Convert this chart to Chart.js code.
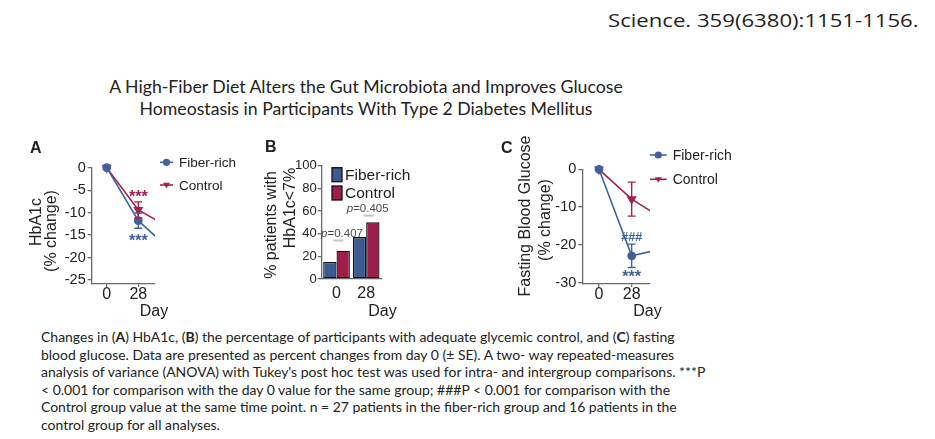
<!DOCTYPE html>
<html><head><meta charset="utf-8">
<script src="https://cdn.jsdelivr.net/npm/chart.js@4.4.1/dist/chart.umd.min.js"></script>
<style>
html,body{margin:0;padding:0;background:#fff;width:935px;height:439px;overflow:hidden;position:relative;}
.abs{position:absolute;white-space:nowrap;color:#222;}
#hdr{left:608px;top:11px;font:19px "Open Sans";line-height:19px;transform:scaleX(1.165);transform-origin:0 0;}
#title{left:0;width:732px;top:76px;text-align:center;font:17px Lato;line-height:22px;transform:scaleX(1.04);transform-origin:366px 0;}
#cap{left:41px;top:329px;font:13.5px Lato;line-height:17.6px;transform:scaleX(1.035);transform-origin:0 0;}
canvas{position:absolute;}
</style></head><body>
<div id="hdr" class="abs">Science. 359(6380):1151-1156.</div>
<div id="title" class="abs">A High-Fiber Diet Alters the Gut Microbiota and Improves Glucose<br>Homeostasis in Participants With Type 2 Diabetes Mellitus</div>
<div id="cap" class="abs">Changes in (<b>A</b>) HbA1c, (<b>B</b>) the percentage of participants with adequate glycemic control, and (<b>C</b>) fasting<br>blood glucose. Data are presented as percent changes from day 0 (± SE). A two- way repeated-measures<br>analysis of variance (ANOVA) with Tukey's post hoc test was used for intra- and intergroup comparisons. ***P<br>&lt; 0.001 for comparison with the day 0 value for the same group; ###P &lt; 0.001 for comparison with the<br>Control group value at the same time point. n = 27 patients in the fiber-rich group and 16 patients in the<br>control group for all analyses.</div>
<canvas id="cA" width="225" height="195" style="left:20px;top:130px"></canvas>
<canvas id="cB" width="165" height="195" style="left:255px;top:130px"></canvas>
<canvas id="cC" width="240" height="195" style="left:500px;top:130px"></canvas>
<script>
// ---- data ----
const seriesNames = ['Fiber-rich', 'Control'];
const dayTicks = [0, 28];
const lineDays = [0, 28, 56];
const hba1cTicks = [0, -5, -10, -15, -20, -25];
const hba1cFiber = [0, -11.8, -18.2];
const hba1cControl = [0, -9.4, -13.4];
const hba1cFiberSE = [0, 1.7, 0];
const hba1cControlSE = [0, 1.8, 0];
const hba1cMarks = ['***', '***'];      // [Control, Fiber-rich] at day 28
const hba1cMarkLevels = [-5.7, -15.4];
const fbgTicks = [0, -10, -20, -30];
const fbgFiber = [0, -22.9, -20.9];
const fbgControl = [0, -7.9, -13.3];
const fbgFiberSE = [0, 3.1, 0];
const fbgControlSE = [0, 4.5, 0];
const fbgMarks = ['###', '***'];        // Fiber-rich at day 28
const fbgMarkLevels = [-17.7, -27.4];
const barDays = ['0', '28'];
const pctTicks = [0, 20, 40, 60, 80, 100];
const pctFiber = [15, 37];
const pctControl = [25, 50];
const pLabels = ['p=0.407', 'p=0.405'];
const pLevels = [34, 56];

// ---- styles ----
const BLUE = '#40629a', RED = '#a3214f';
const BAR_BLUE = '#3b5a92', BAR_RED = '#9e1d4d';
const AX = '#6a6a6a', TXT = '#222';
const FONT = '"Liberation Sans", Arial, sans-serif';
Chart.defaults.font.family = FONT;
Chart.defaults.color = TXT;

function drawMarker(ctx, style, x, y, r, color) {
  ctx.save(); ctx.fillStyle = color; ctx.strokeStyle = color; ctx.beginPath();
  if (style === 'circle') { ctx.arc(x, y, r, 0, Math.PI * 2); }
  else { ctx.moveTo(x - r, y - r * 0.6); ctx.lineTo(x + r, y - r * 0.6); ctx.lineTo(x, y + r * 0.9); ctx.closePath(); }
  ctx.fill(); ctx.restore();
}
function drawSym(ctx, text, x, y, size, color) {
  ctx.save(); ctx.font = 'bold ' + size + 'px ' + FONT; ctx.fillStyle = color;
  ctx.textAlign = 'center'; ctx.textBaseline = 'alphabetic';
  const off = text[0] === '*' ? 0.55 : 0.36;
  ctx.fillText(text, x, y + off * size); ctx.restore();
}

const deco = {
  id: 'deco',
  afterDatasetsDraw(chart, a, o) {
    const ctx = chart.ctx, xs = chart.scales.x, ys = chart.scales.y;
    (o.errors || []).forEach(e => {
      const ds = chart.data.datasets[e.ds];
      ctx.save(); ctx.strokeStyle = ds.borderColor; ctx.lineWidth = 1.4;
      ds.data.forEach((p, i) => {
        const se = e.se[i]; if (!se || p.x > xs.max) return;
        const x = xs.getPixelForValue(p.x), yt = ys.getPixelForValue(p.y + se), yb = ys.getPixelForValue(p.y - se);
        ctx.beginPath(); ctx.moveTo(x, yt); ctx.lineTo(x, yb);
        ctx.moveTo(x - 4, yt); ctx.lineTo(x + 4, yt); ctx.moveTo(x - 4, yb); ctx.lineTo(x + 4, yb); ctx.stroke();
      });
      ctx.restore();
    });
    (o.marks || []).forEach(m => {
      drawSym(ctx, m.text, xs.getPixelForValue(m.x), ys.getPixelForValue(m.y), m.size, m.color);
    });
    (o.pvals || []).forEach(p => {
      const xc = xs.getPixelForValue(p.i);
      const yl = ys.getPixelForValue(p.level);
      ctx.save(); ctx.strokeStyle = '#c4c4c4'; ctx.lineWidth = 2;
      ctx.beginPath(); ctx.moveTo(xc + p.lx - 5, yl); ctx.lineTo(xc + p.lx + 5, yl); ctx.stroke();
      ctx.font = 'italic 11.5px ' + FONT; const w1 = ctx.measureText('p').width;
      ctx.font = '11.5px ' + FONT; const rest = p.text.slice(1); const w2 = ctx.measureText(rest).width;
      let x0 = xc + p.tx - (w1 + w2) / 2; const y0 = yl - p.ty;
      ctx.fillStyle = '#4a4a4a'; ctx.textBaseline = 'middle'; ctx.textAlign = 'left';
      ctx.font = 'italic 11.5px ' + FONT; ctx.fillText('p', x0, y0);
      ctx.font = '11.5px ' + FONT; ctx.fillText(rest, x0 + w1, y0);
      ctx.restore();
    });
  },
  afterDraw(chart, a, o) {
    const ctx = chart.ctx;
    (o.texts || []).forEach(t => {
      ctx.save(); ctx.translate(t.x, t.y); if (t.rot) ctx.rotate(t.rot);
      ctx.font = t.font; ctx.fillStyle = t.color || TXT; ctx.textAlign = t.align || 'center'; ctx.textBaseline = t.base || 'middle';
      ctx.fillText(t.text, 0, 0); ctx.restore();
    });
    (o.legend || []).forEach(l => {
      const ds = chart.data.datasets[l.ds];
      ctx.save();
      if (l.box) {
        ctx.fillStyle = ds.backgroundColor; ctx.fillRect(l.x, l.y - 7, 10, 14);
        ctx.strokeStyle = '#111'; ctx.lineWidth = 1.3; ctx.strokeRect(l.x, l.y - 7, 10, 14);
        ctx.fillStyle = TXT; ctx.font = l.font; ctx.textBaseline = 'middle'; ctx.textAlign = 'left';
        ctx.fillText(ds.label, l.x + 13, l.y + 1);
      } else {
        ctx.strokeStyle = ds.borderColor; ctx.lineWidth = 1.6;
        ctx.beginPath(); ctx.moveTo(l.x, l.y); ctx.lineTo(l.x + l.w, l.y); ctx.stroke();
        drawMarker(ctx, ds.pointStyle === 'circle' ? 'circle' : 'tri', l.x + l.w / 2, l.y, 3.6, ds.borderColor);
        ctx.fillStyle = TXT; ctx.font = l.font; ctx.textBaseline = 'middle'; ctx.textAlign = 'left';
        ctx.fillText(ds.label, l.x + l.w + 6, l.y + 1);
      }
      ctx.restore();
    });
  }
};

function pts(xs, ys) { return xs.map((x, i) => ({ x: x, y: ys[i] })); }
function axisGrid(len) { return { display: true, drawOnChartArea: false, drawTicks: true, tickLength: len, color: AX, lineWidth: 1.3 }; }

function lineChart(id, g) {
  return new Chart(document.getElementById(id), {
    type: 'line',
    data: {
      datasets: [
        { label: seriesNames[0], data: pts(lineDays, g.fiber), borderColor: BLUE, backgroundColor: BLUE,
          pointStyle: 'circle', pointRadius: 3.6, borderWidth: 1.6, tension: 0, clip: { left: 10, top: 10, right: 0, bottom: 10 } },
        { label: seriesNames[1], data: pts(lineDays, g.control), borderColor: RED, backgroundColor: RED,
          pointStyle: 'triangle', rotation: 180, pointRadius: 4.2, borderWidth: 1.6, tension: 0, clip: { left: 10, top: 10, right: 0, bottom: 10 } }
      ]
    },
    options: {
      responsive: false, animation: false, devicePixelRatio: 1,
      layout: { padding: g.pad },
      plugins: { legend: { display: false }, tooltip: { enabled: false }, deco: g.deco },
      scales: {
        x: { type: 'linear', min: g.xmin, max: g.xmax,
          afterBuildTicks: s => { s.ticks = dayTicks.map(v => ({ value: v })); },
          afterFit: s => { s.height = g.xh; },
          grid: axisGrid(3), border: { display: true, color: AX, width: 1.3 },
          ticks: { font: { size: 16 }, padding: -2, color: TXT, maxRotation: 0, callback: v => String(v) } },
        y: { type: 'linear', min: g.ymin, max: 0,
          afterBuildTicks: s => { s.ticks = g.yticks.map(v => ({ value: v })); },
          afterFit: s => { s.width = g.yw; },
          grid: axisGrid(4), border: { display: true, color: AX, width: 1.3 },
          ticks: { font: { size: 14.5 }, padding: 2, color: TXT, callback: v => String(v) } }
      }
    },
    plugins: [deco]
  });
}

const T16 = '16px ' + FONT, LET = 'bold 16px ' + FONT;
const R90 = -Math.PI / 2;

// Panel A
lineChart('cA', {
  fiber: hba1cFiber, control: hba1cControl, yticks: hba1cTicks,
  xmin: -13.3, xmax: 42.8, ymin: -25.9, yw: 71.7, xh: 41,
  pad: { left: 0, top: 37.7, right: 90, bottom: 0 },
  deco: {
    errors: [{ ds: 0, se: hba1cFiberSE }, { ds: 1, se: hba1cControlSE }],
    marks: [{ x: 28, y: hba1cMarkLevels[0], text: hba1cMarks[0], size: 16, color: RED },
            { x: 28, y: hba1cMarkLevels[1], text: hba1cMarks[1], size: 16, color: BLUE }],
    texts: [
      { text: 'A', x: 10, y: 23, font: LET, align: 'left', base: 'alphabetic' },
      { text: 'HbA1c', x: 16.5, y: 92, font: T16, rot: R90 },
      { text: '(% change)', x: 31.5, y: 101, font: T16, rot: R90 },
      { text: 'Day', x: 134, y: 182, font: T16 }
    ],
    legend: [{ ds: 0, x: 140, y: 32.3, w: 13, font: '13.5px ' + FONT },
             { ds: 1, x: 140, y: 55, w: 13, font: '13.5px ' + FONT }]
  }
});

// Panel C
lineChart('cC', {
  fiber: fbgFiber, control: fbgControl, yticks: fbgTicks,
  xmin: -14.3, xmax: 43.7, ymin: -30.35, yw: 82.3, xh: 41,
  pad: { left: 0, top: 39.3, right: 90, bottom: 0 },
  deco: {
    errors: [{ ds: 0, se: fbgFiberSE }, { ds: 1, se: fbgControlSE }],
    marks: [{ x: 28, y: fbgMarkLevels[0], text: fbgMarks[0], size: 12.6, color: BLUE },
            { x: 28, y: fbgMarkLevels[1], text: fbgMarks[1], size: 16, color: BLUE }],
    texts: [
      { text: 'C', x: 1, y: 23, font: LET, align: 'left', base: 'alphabetic' },
      { text: 'Fasting Blood Glucose', x: 26, y: 86, font: T16, rot: R90 },
      { text: '(% change)', x: 46, y: 90, font: T16, rot: R90 },
      { text: 'Day', x: 147.5, y: 182, font: T16 }
    ],
    legend: [{ ds: 0, x: 150, y: 25, w: 16.7, font: '14px ' + FONT },
             { ds: 1, x: 150, y: 49.3, w: 16.7, font: '14px ' + FONT }]
  }
});

// Panel B
new Chart(document.getElementById('cB'), {
  type: 'bar',
  data: {
    labels: barDays,
    datasets: [
      { label: seriesNames[0], data: pctFiber, backgroundColor: BAR_BLUE, borderColor: '#111', borderWidth: 1.3, borderSkipped: false },
      { label: seriesNames[1], data: pctControl, backgroundColor: BAR_RED, borderColor: '#111', borderWidth: 1.3, borderSkipped: false }
    ]
  },
  options: {
    responsive: false, animation: false, devicePixelRatio: 1,
    layout: { padding: { left: 0, top: 35.7, right: 39, bottom: 0 } },
    datasets: { bar: { categoryPercentage: 0.9, barPercentage: 1.0 } },
    plugins: { legend: { display: false }, tooltip: { enabled: false },
      deco: {
        pvals: [{ i: 0, level: pLevels[0], text: pLabels[0], lx: 1.8, tx: 5.5, ty: 6.5 },
                { i: 1, level: pLevels[1], text: pLabels[1], lx: 2.5, tx: 1.5, ty: 7 }],
        texts: [
          { text: 'B', x: 10, y: 21.7, font: LET, align: 'left', base: 'alphabetic' },
          { text: '% patients with', x: 17, y: 95, font: T16, rot: R90 },
          { text: 'HbA1c<7%', x: 35.5, y: 78, font: T16, rot: R90 },
          { text: 'Day', x: 127.5, y: 182, font: T16 }
        ],
        legend: [{ ds: 0, box: true, x: 77, y: 44.7, font: '15.5px ' + FONT },
                 { ds: 1, box: true, x: 77, y: 63, font: '15.5px ' + FONT }]
      } },
    scales: {
      x: { offset: true, afterFit: s => { s.height = 46; },
        grid: { display: true, drawOnChartArea: false, drawTicks: false, offset: true, color: AX },
        border: { display: true, color: AX, width: 1.3 },
        ticks: { font: { size: 16 }, padding: 5, color: TXT, maxRotation: 0 } },
      y: { min: 0, max: 100,
        afterBuildTicks: s => { s.ticks = pctTicks.map(v => ({ value: v })); },
        afterFit: s => { s.width = 66.7; },
        grid: axisGrid(4), border: { display: true, color: AX, width: 1.3 },
        ticks: { font: { size: 13 }, padding: 1, color: TXT, callback: v => String(v) } }
    }
  },
  plugins: [deco]
});
</script>
</body></html>
